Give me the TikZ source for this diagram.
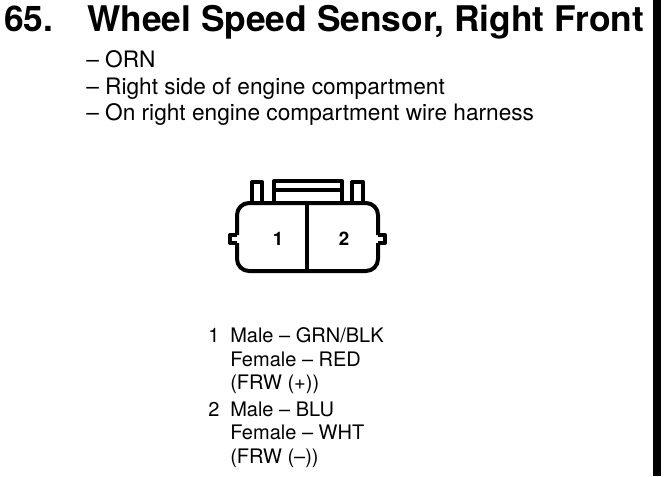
\documentclass[tikz,border=0pt]{standalone}
\usepackage{fontspec}
\setmainfont{TeX Gyre Heros}
\usetikzlibrary{positioning}
\tikzset{
    headtext/.style={anchor=base west, inner sep=0pt, font=\bfseries\fontsize{26.5}{30}\selectfont},
    notetext/.style={anchor=base west, inner sep=0pt, font=\fontsize{17}{20}\selectfont},
    listtext/.style={anchor=base west, inner sep=0pt, font=\fontsize{15}{18}\selectfont},
    pintext/.style={inner sep=0pt, font=\bfseries\fontsize{14}{16}\selectfont},
    body/.style={line width=3pt, line join=round},
    shell/.style={body, rounded corners=9pt}
}
\begin{document}
\begin{tikzpicture}[x=0.75pt, y=-0.75pt]
    \useasboundingbox (0, 0) rectangle (672, 476);
    \fill [black] (653, 0) rectangle (661, 476);

    \node [headtext] (num) at (4, 31) {65.};
    \node [headtext] (title) at (87, 31) {Wheel Speed Sensor, Right Front};

    \node [notetext] (colour) at (86, 67) {-- ORN};
    \node [notetext] (place) at (86, 94) {-- Right side of engine compartment};
    \node [notetext] (harness) at (86, 120) {-- On right engine compartment wire harness};

    % connector
    \draw [shell] (237, 235) -- (237, 203) -- (378, 203) -- (378, 235);
    \draw [shell] (237, 243) -- (237, 271) -- (378, 271) -- (378, 243);
    \draw [body] (237, 235) -- (230, 235) -- (230, 243) -- (237, 243);
    \draw [body] (378, 235) -- (385, 235) -- (385, 243) -- (378, 243);
    \draw [body] (307, 203) -- (307, 271);
    \draw [body] (252, 203) -- (252, 182) -- (262, 182) -- (262, 203);
    \draw [body] (352, 203) -- (352, 182) -- (363, 182) -- (363, 203);
    \draw [body] (274, 203) -- (274, 181) -- (342, 181) -- (342, 203);
    \draw [body] (274, 190) -- (342, 190);

    \node [pintext] (one) at (278, 239) {1};
    \node [pintext] (two) at (344, 239) {2};

    \node [listtext] (first) at (208, 342) {1};
    \node [listtext] (maleone) at (230, 342) {Male -- GRN/BLK};
    \node [listtext] (femaleone) at (230, 366) {Female -- RED};
    \node [listtext] (frwone) at (230, 389) {(FRW (+))};
    \node [listtext] (second) at (208, 416) {2};
    \node [listtext] (maletwo) at (230, 416) {Male -- BLU};
    \node [listtext] (femaletwo) at (230, 439) {Female -- WHT};
    \node [listtext] (frwtwo) at (230, 463) {(FRW (--))};
\end{tikzpicture}
\end{document}
